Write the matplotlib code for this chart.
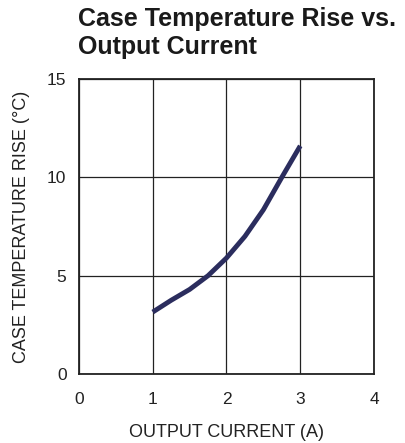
import matplotlib
matplotlib.use("Agg")
import matplotlib.pyplot as plt

current_a = [1.0, 1.25, 1.5, 1.75, 2.0, 2.25, 2.5, 2.75, 3.0]
temp_rise_c = [3.15, 3.75, 4.3, 5.0, 5.9, 7.0, 8.35, 10.0, 11.6]
x_ticks = [0, 1, 2, 3, 4]
y_ticks = [0, 5, 10, 15]

plt.rcParams['font.family'] = ['Liberation Sans', 'DejaVu Sans']

fig = plt.figure(figsize=(4.06, 4.43), dpi=100)
ax = fig.add_axes([79/406, 1-374/443, 295/406, 295/443])
ax.plot(current_a, temp_rise_c, color='#2b2d5e', lw=3.5, solid_capstyle='butt',
        solid_joinstyle='round')
ax.set_xlim(0, 4)
ax.set_ylim(0, 15)
ax.set_xticks(x_ticks)
ax.set_yticks(y_ticks)
ax.grid(True, color='#222222', lw=0.9)
for s in ax.spines.values():
    s.set_color('#222222')
    s.set_linewidth(1.3)
ax.tick_params(axis='x', length=0, pad=13, labelsize=12.5, colors='#222222')
ax.tick_params(axis='y', length=0, pad=9, labelsize=12.5, colors='#222222')
ax.set_xlabel('OUTPUT CURRENT (A)', fontsize=13, labelpad=12, color='#222222')
ax.set_ylabel('CASE TEMPERATURE RISE (°C)', fontsize=13, labelpad=12, color='#222222')
fig.text(78/406, 1-7/443, 'Case Temperature Rise vs.\nOutput Current', fontsize=18,
         fontweight='bold', ha='left', va='top', color='#1a1a1a', linespacing=1.2)
fig.savefig('out.png', dpi=100)
